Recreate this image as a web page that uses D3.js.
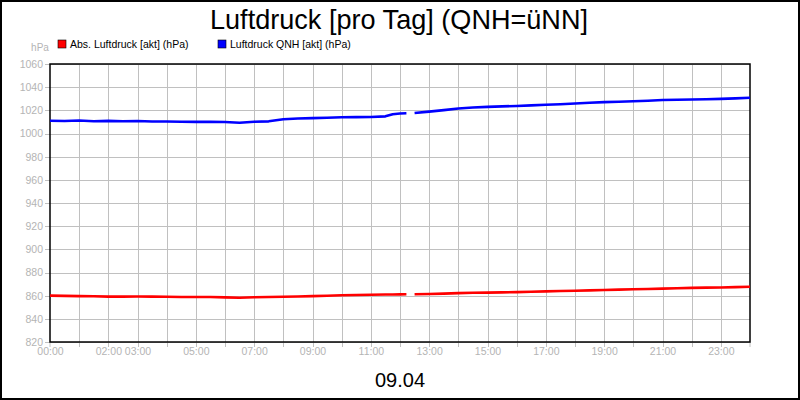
<!DOCTYPE html>
<html><head><meta charset="utf-8">
<script src="https://cdn.jsdelivr.net/npm/d3@7"></script>
<style>body{margin:0;background:#fff}svg{display:block;font-family:"Liberation Sans",Arial,sans-serif}</style>
</head><body><svg id="c" width="800" height="400"></svg>
<script>
const title = "Luftdruck [pro Tag] (QNH=üNN]";
const dateLabel = "09.04";
const unitLabel = "hPa";
const seriesNames = ["Abs. Luftdruck [akt] (hPa)", "Luftdruck QNH [akt] (hPa)"];
const seriesColors = ["#ff0000", "#0000ff"];
const yTicks = [820,840,860,880,900,920,940,960,980,1000,1020,1040,1060];
const xLabelHours = [0,2,3,5,7,9,11,13,15,17,19,21,23];
const xLabelText = ["00:00","02:00","03:00","05:00","07:00","09:00","11:00","13:00","15:00","17:00","19:00","21:00","23:00"];
const hours = [0,0.5,1,1.5,2,2.5,3,3.5,4,4.5,5,5.5,6,6.5,7,7.5,8,8.5,9,9.5,10,10.5,11,11.5,
  11.75,12,12.22,12.35,12.5,
  13,13.5,14,14.5,15,15.5,16,16.5,17,17.5,18,18.5,19,19.5,20,20.5,21,21.5,22,22.5,23,23.5,24];
const absValues = [860.0,859.8,859.6,859.5,859.2,859.2,859.3,859.2,859.0,858.9,858.9,858.8,858.5,858.2,858.6,858.8,859.0,859.3,859.6,859.9,860.3,860.6,860.8,861.0,
  861.0,861.1,861.2,null,861.2,
  861.4,861.8,862.2,862.5,862.6,862.8,863.1,863.4,863.7,864.0,864.3,864.6,864.9,865.2,865.5,865.8,866.1,866.4,866.7,866.9,867.1,867.4,867.7];
const qnhValues = [1011.0,1010.8,1011.2,1010.6,1010.9,1010.6,1010.8,1010.4,1010.3,1010.2,1010.0,1010.2,1009.9,1009.3,1010.2,1010.5,1012.3,1012.9,1013.3,1013.6,1014.0,1014.1,1014.2,1014.8,
  1016.6,1017.3,1017.5,null,1017.7,
  1018.9,1020.2,1021.6,1022.4,1023.0,1023.4,1023.8,1024.3,1024.8,1025.3,1025.9,1026.5,1027.1,1027.4,1027.8,1028.3,1028.9,1029.2,1029.4,1029.6,1029.9,1030.3,1030.8];

const svg = d3.select("#c");
const L=50,R=750,T=64,B=342;
const x = d3.scaleLinear().domain([0,24]).range([L,R]);
const y = d3.scaleLinear().domain([820,1060]).range([B,T]);
const grey = "#c0c0c0", labGrey = "#b4b4b4";

svg.append("rect").attr("x",1).attr("y",1).attr("width",798).attr("height",398).attr("fill","#fff").attr("stroke","#000").attr("stroke-width",2);

// grid
const hourTicks = d3.range(0,25);
svg.append("g").selectAll("line").data(hourTicks.slice(1,24)).join("line")
  .attr("x1",d=>Math.round(x(d))+0.5).attr("x2",d=>Math.round(x(d))+0.5).attr("y1",T).attr("y2",B+5).attr("stroke",grey).attr("stroke-width",1);
svg.append("g").selectAll("line").data([0,24]).join("line")
  .attr("x1",d=>x(d)).attr("x2",d=>x(d)).attr("y1",B).attr("y2",B+5).attr("stroke",grey);
svg.append("g").selectAll("line").data(yTicks).join("line")
  .attr("x1",L-5).attr("x2",R).attr("y1",d=>Math.round(y(d))+0.5).attr("y2",d=>Math.round(y(d))+0.5).attr("stroke",grey);

// axes labels
const yAxis = d3.axisLeft(y).tickValues(yTicks).tickFormat(d3.format("d")).tickSize(0).tickPadding(7);
const ga = svg.append("g").attr("transform",`translate(${L},0)`).call(yAxis);
ga.select(".domain").remove();
ga.selectAll("text").attr("fill",labGrey).attr("font-size",10.5).attr("font-family","Liberation Sans, Arial, sans-serif");

const xAxis = d3.axisBottom(x).tickValues(xLabelHours).tickFormat((d,i)=>xLabelText[i]).tickSize(0).tickPadding(6);
const gx = svg.append("g").attr("transform",`translate(0,${B})`).call(xAxis);
gx.select(".domain").remove();
gx.selectAll("text").attr("fill",labGrey).attr("font-size",10.5).attr("font-family","Liberation Sans, Arial, sans-serif");

svg.append("text").attr("x",40).attr("y",51).attr("text-anchor","middle").attr("fill",labGrey).attr("font-size",10).text(unitLabel);

// plot frame
svg.append("rect").attr("x",L).attr("y",T).attr("width",R-L).attr("height",B-T).attr("fill","none").attr("stroke","#000").attr("stroke-width",1.5);

// lines
const data = hours.map((h,i)=>({h,a:absValues[i],q:qnhValues[i]}));
[["a",0],["q",1]].forEach(([k,i])=>{
  const line = d3.line().defined(d=>d[k]!=null).x(d=>x(d.h)).y(d=>y(d[k]));
  svg.append("path").datum(data).attr("d",line).attr("fill","none")
    .attr("stroke",seriesColors[i]).attr("stroke-width",2.6).attr("stroke-linejoin","round");
});

// legend
const legX=[58,218];
seriesNames.forEach((n,i)=>{
  svg.append("rect").attr("x",legX[i]).attr("y",40).attr("width",8).attr("height",8).attr("fill",seriesColors[i]).attr("stroke","#000").attr("stroke-width",0.6);
  svg.append("text").attr("x",legX[i]+12).attr("y",48).attr("font-size",10.5).attr("fill","#000").text(n);
});

svg.append("text").attr("x",399).attr("y",29).attr("text-anchor","middle").attr("font-size",28)
  .attr("textLength",378).attr("lengthAdjust","spacingAndGlyphs").attr("fill","#000").text(title);
svg.append("text").attr("x",400).attr("y",387).attr("text-anchor","middle").attr("font-size",20).attr("fill","#000").text(dateLabel);
</script></body></html>
